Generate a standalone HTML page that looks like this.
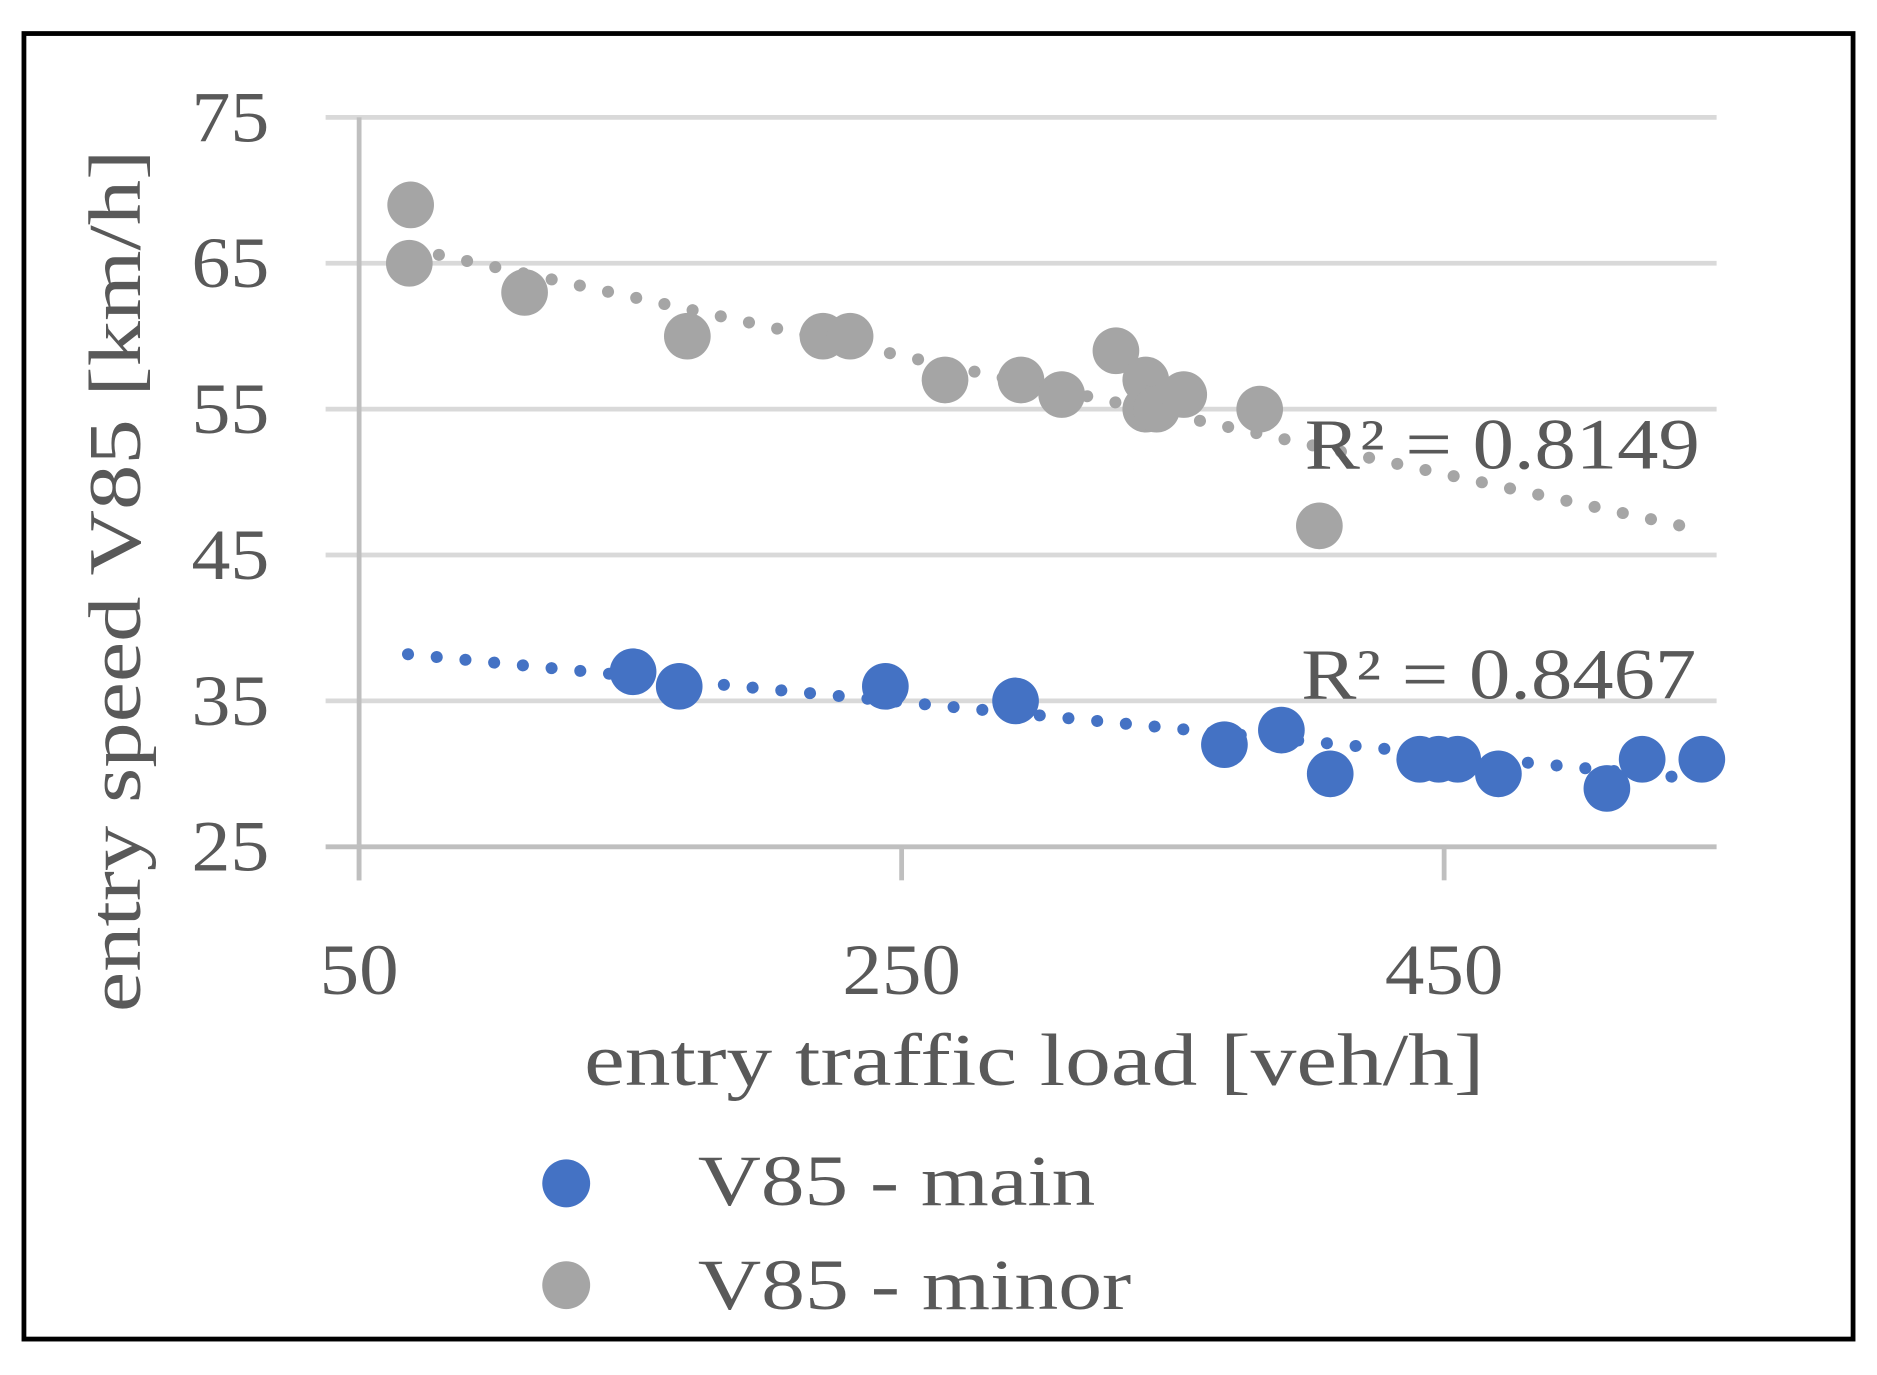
<!DOCTYPE html>
<html><head><meta charset="utf-8"><style>
html,body{margin:0;padding:0;background:#fff;}
svg{display:block;}
text{font-family:"Liberation Serif",serif;fill:#595959;}
</style></head><body>
<svg id="chart" width="1877" height="1375" viewBox="0 0 1568 1148" preserveAspectRatio="none" xmlns="http://www.w3.org/2000/svg">
<rect x="20" y="28" width="1528" height="1090" fill="#fff" stroke="#000" stroke-width="4"/>
<g id="grid"></g>
<g id="trends"></g>
<g id="points"></g>
<g id="labels"></g>
<text x="1090" y="391" font-size="60" textLength="330" lengthAdjust="spacingAndGlyphs">R² = 0.8149</text>
<text x="1087" y="583" font-size="60" textLength="330" lengthAdjust="spacingAndGlyphs">R² = 0.8467</text>
<text x="488" y="906" font-size="62" textLength="752" lengthAdjust="spacingAndGlyphs">entry traffic load [veh/h]</text>
<text transform="translate(117,845) rotate(-90)" font-size="62" textLength="720" lengthAdjust="spacingAndGlyphs">entry speed V85 [km/h]</text>
<circle cx="473" cy="988" r="20" fill="#4472C4"/>
<text x="583" y="1006" font-size="60" textLength="332" lengthAdjust="spacingAndGlyphs">V85 - main</text>
<circle cx="473" cy="1073" r="20" fill="#A5A5A5"/>
<text x="583" y="1093" font-size="60" textLength="362" lengthAdjust="spacingAndGlyphs">V85 - minor</text>
</svg>
<script>
const xTicks = [50, 250, 450];
const yTicks = [25, 35, 45, 55, 65, 75];
const minorX = [69, 68.5, 111, 171, 221, 231, 266, 294, 309, 329, 340, 340, 344, 354, 382, 404];
const minorY = [69, 65, 63, 60, 60, 60, 57, 57, 56, 59, 57, 55, 55, 56, 55, 47];
const mainX = [151, 168, 244, 292, 369, 390, 408, 441, 448, 455, 470, 510, 523, 545];
const mainY = [37, 36, 36, 35, 32, 33, 30, 31, 31, 31, 30, 29, 31, 31];
const minorTrendX = [69, 540];
const minorTrendY = [66, 46.9];
const mainTrendX = [68, 540];
const mainTrendY = [38.2, 29.7];

const NS = "http://www.w3.org/2000/svg";
const X0 = 300, XPU = 2.266, Y0 = 707, YPU = 12.18;
function sx(v){ return X0 + (v - 50) * XPU; }
function sy(v){ return Y0 - (v - 25) * YPU; }
function mk(tag, attrs, parent){
  const e = document.createElementNS(NS, tag);
  for (const k in attrs) e.setAttribute(k, attrs[k]);
  parent.appendChild(e); return e;
}
const grid = document.getElementById('grid');
const labels = document.getElementById('labels');
yTicks.forEach(t => {
  if (t !== 25) {
    const l = mk('line', {x1:272, x2:1434, y1:sy(t), y2:sy(t), stroke:'#d9d9d9', 'stroke-width':4}, grid);
    
    
  }
  const tx = mk('text', {x:160, y:sy(t)+20, 'font-size':60, textLength:65, lengthAdjust:'spacingAndGlyphs'}, labels);
  tx.textContent = t;
  
  
});
const xa = mk('line', {x1:272, x2:1434, y1:Y0, y2:Y0, stroke:'#bfbfbf', 'stroke-width':4}, grid);


const ya = mk('line', {x1:X0, x2:X0, y1:sy(75), y2:735, stroke:'#bfbfbf', 'stroke-width':4}, grid);


xTicks.forEach(t => {
  const tk = mk('line', {x1:sx(t), x2:sx(t), y1:Y0, y2:735, stroke:'#bfbfbf', 'stroke-width':4}, grid);
  
  
  const w = String(t).length * 33;
  const tx = mk('text', {x:sx(t) - w/2, y:830, 'font-size':60, textLength:w, lengthAdjust:'spacingAndGlyphs'}, labels);
  tx.textContent = t;
  
  
});
const trends = document.getElementById('trends');
const tMinor = mk('line', {x1:sx(minorTrendX[0]), y1:sy(minorTrendY[0]), x2:sx(minorTrendX[1]), y2:sy(minorTrendY[1]), stroke:'#A5A5A5', 'stroke-width':10, 'stroke-linecap':'round', 'stroke-dasharray':'0.1 24'}, trends);


const tMain = mk('line', {x1:sx(mainTrendX[0]), y1:sy(mainTrendY[0]), x2:sx(mainTrendX[1]), y2:sy(mainTrendY[1]), stroke:'#4472C4', 'stroke-width':10, 'stroke-linecap':'round', 'stroke-dasharray':'0.1 24'}, trends);


const pts = document.getElementById('points');
minorX.forEach((v, i) => {
  const c = mk('circle', {cx:sx(v), cy:sy(minorY[i]), r:19.5, fill:'#A5A5A5'}, pts);
  
  
});
mainX.forEach((v, i) => {
  const c = mk('circle', {cx:sx(v), cy:sy(mainY[i]), r:19.5, fill:'#4472C4'}, pts);
  
  
});
</script>
</body></html>
